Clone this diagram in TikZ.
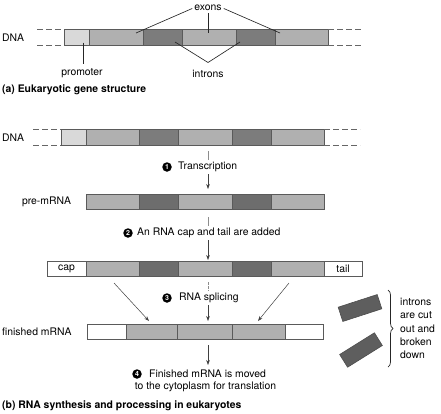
\documentclass[tikz,border=0pt]{standalone}
\usepackage{fontspec}
\setmainfont{TeX Gyre Heros}
\usetikzlibrary{arrows.meta,decorations.pathreplacing,calc}
\definecolor{promc}{HTML}{D9D9D9}
\definecolor{exonc}{HTML}{B0B0B0}
\definecolor{intrc}{HTML}{7C7C7C}
\definecolor{rintrc}{HTML}{6D6D6D}
\definecolor{cutc}{HTML}{5E5E5E}
\definecolor{segline}{HTML}{5A5A5A}
\newcommand\segbox[7]{\node[#2, minimum width={(#4-#3)*1pt}, minimum height={(#6-#5)*1pt}] (#1) at ({(#3+#4)/2},{(#5+#6)/2}) {#7};}
\begin{document}
\begin{tikzpicture}[x=1pt,y=-1pt,
  seg/.style={rectangle, draw=segline, line width=0.7pt, inner sep=0pt, outer sep=0pt, font=\fontsize{10.4}{12}\selectfont},
  prom/.style={seg, fill=promc},
  exon/.style={seg, fill=exonc},
  intr/.style={seg, fill=intrc},
  rintr/.style={seg, fill=rintrc},
  wht/.style={seg, fill=white},
  cutbox/.style={rectangle, draw=black!70, line width=0.6pt, fill=cutc, minimum width=41pt, minimum height=15pt, inner sep=0pt},
  lbl/.style={font=\fontsize{10.4}{12}\selectfont, inner sep=0pt},
  blbl/.style={font=\fontsize{10.4}{12}\selectfont\bfseries, inner sep=0pt},
  num/.style={circle, fill=black, text=white, font=\fontsize{7}{7}\selectfont\bfseries, inner sep=0pt, minimum size=9.5pt},
  ptr/.style={draw=black!85, line width=0.65pt},
  thinl/.style={draw=black!45, line width=0.5pt},
  dline/.style={draw=black!45, line width=0.5pt, dash pattern=on 2.5pt off 1.5pt},
  arr/.style={draw=black!75, line width=0.5pt, -{Stealth[length=5pt,width=3.6pt]}},
  dsh/.style={draw=black!60, line width=0.6pt, dash pattern=on 6pt off 3pt},
  brc/.style={draw=black!85, line width=0.7pt, decorate, decoration={brace, amplitude=5pt}}
]
\useasboundingbox (0,0) rectangle (441,413);

% ---------- (a) gene structure ----------
\segbox{aP}{prom}{64}{89}{29.5}{45.5}{}
\segbox{aE1}{exon}{89}{143}{29.5}{45.5}{}
\segbox{aI1}{intr}{143}{182}{29.5}{45.5}{}
\segbox{aE2}{exon}{182}{236}{29.5}{45.5}{}
\segbox{aI2}{intr}{236}{275}{29.5}{45.5}{}
\segbox{aE3}{exon}{275}{328}{29.5}{45.5}{}
\coordinate (aLt) at (37,29.5); \coordinate (aLb) at (37,45.5);
\coordinate (aRt) at (363,29.5); \coordinate (aRb) at (363,45.5);
\draw[dsh] (aLt) -- (aP.north west);
\draw[dsh] (aLb) -- (aP.south west);
\draw[dsh] (aE3.north east) -- (aRt);
\draw[dsh] (aE3.south east) -- (aRb);
\node[lbl, anchor=west] (dnaA) at (2,38) {DNA};

\node[lbl] (exons) at (208,8) {exons};
\draw[ptr] ($(exons.west)+(-2,0.5)$) -- ($(aE1.north east)+(-7,3.5)$);
\draw[ptr] ($(exons.south)+(0,2)$) -- ($(aE2.north)+(-1,3.5)$);
\draw[ptr] ($(exons.east)+(2,0.5)$) -- ($(aE3.north west)+(5,3.5)$);

\node[lbl] (introns) at (208,73.5) {introns};
\coordinate (iapex) at (208,62.5);
\draw[ptr] ($(aI1.south east)+(-7,-3.5)$) -- (iapex) -- ($(aI2.south west)+(4,-3.5)$);

\node[lbl] (promoter) at (82,73.5) {promoter};
\coordinate (papex) at (83,63.5);
\draw[ptr] ($(aP.south east)+(-6,-3)$) -- (papex);

\node[blbl, anchor=west] (capa) at (2,89.5) {(a) Eukaryotic gene structure};

% ---------- (b) DNA ----------
\segbox{bP}{prom}{61}{86}{129}{145}{}
\segbox{bE1}{exon}{86}{139}{129}{145}{}
\segbox{bI1}{intr}{139}{178}{129}{145}{}
\segbox{bE2}{exon}{178}{232}{129}{145}{}
\segbox{bI2}{intr}{232}{271}{129}{145}{}
\segbox{bE3}{exon}{271}{324}{129}{145}{}
\coordinate (bLt) at (33,129); \coordinate (bLb) at (33,145);
\coordinate (bRt) at (360,129); \coordinate (bRb) at (360,145);
\draw[dsh] (bLt) -- (bP.north west);
\draw[dsh] (bLb) -- (bP.south west);
\draw[dsh] (bE3.north east) -- (bRt);
\draw[dsh] (bE3.south east) -- (bRb);
\node[lbl, anchor=west] (dnaB) at (2,138) {DNA};

% step 1
\node[num] (n1) at (167,167) {1};
\node[lbl, anchor=west] (t1) at (178,167) {Transcription};
\coordinate (s1a) at (208,151); \coordinate (s1b) at (208,160);
\coordinate (s1c) at (208,174); \coordinate (s1d) at (208,189);
\draw[thinl] (s1a) -- (s1b);
\draw[arr] (s1c) -- (s1d);

% pre-mRNA
\segbox{cE1}{exon}{86}{139}{194}{209.5}{}
\segbox{cI1}{rintr}{139}{178}{194}{209.5}{}
\segbox{cE2}{exon}{178}{232}{194}{209.5}{}
\segbox{cI2}{rintr}{232}{271}{194}{209.5}{}
\segbox{cE3}{exon}{271}{324}{194}{209.5}{}
\node[lbl] (pre) at (46.5,202) {pre-mRNA};

% step 2
\node[num] (n2) at (128,233) {2};
\node[lbl, anchor=west] (t2) at (137,233) {An RNA cap and tail are added};
\coordinate (s2a) at (208,217); \coordinate (s2b) at (208,225.5);
\coordinate (s2c) at (208,240); \coordinate (s2d) at (208,260);
\draw[thinl] (s2a) -- (s2b);
\draw[arr] (s2c) -- (s2d);

% cap/tail RNA
\segbox{dC}{wht}{47}{86}{261}{276.5}{cap}
\segbox{dE1}{exon}{86}{139}{261}{276.5}{}
\segbox{dI1}{rintr}{139}{178}{261}{276.5}{}
\segbox{dE2}{exon}{178}{232}{261}{276.5}{}
\segbox{dI2}{rintr}{232}{271}{261}{276.5}{}
\segbox{dE3}{exon}{271}{324}{261}{276.5}{}
\segbox{dT}{wht}{324}{362}{261}{276.5}{tail}

% step 3
\node[num] (n3) at (167,298) {3};
\node[lbl, anchor=west] (t3) at (179,298) {RNA splicing};
\coordinate (s3a) at (208,282); \coordinate (s3b) at (208,291);
\coordinate (s3c) at (208,305); \coordinate (s3d) at (208,321);
\coordinate (s3l1) at (114,283); \coordinate (s3l2) at (149,321);
\coordinate (s3r1) at (289,283); \coordinate (s3r2) at (258,321);
\draw[dline] (s3a) -- (s3b);
\draw[arr] (s3c) -- (s3d);
\draw[arr] (s3l1) -- (s3l2);
\draw[arr] (s3r1) -- (s3r2);

% finished mRNA
\segbox{eW1}{wht}{87}{126}{324}{339.5}{}
\segbox{eE1}{exon}{126}{177}{324}{339.5}{}
\segbox{eE2}{exon}{177}{232}{324}{339.5}{}
\segbox{eE3}{exon}{232}{285}{324}{339.5}{}
\segbox{eW2}{wht}{285}{323}{324}{339.5}{}
\node[lbl, anchor=west] (fin) at (2,332) {finished mRNA};

% step 4
\coordinate (s4a) at (208,345); \coordinate (s4b) at (208,365);
\draw[arr] (s4a) -- (s4b);
\node[num] (n4) at (137,374) {4};
\node[lbl, anchor=west] (t4a) at (149,374) {Finished mRNA is moved};
\node[lbl] (t4b) at (205.5,387) {to the cytoplasm for translation};

\node[blbl, anchor=west] (capb) at (2,406) {(b) RNA synthesis and processing in eukaryotes};

% introns cut out
\node[cutbox, rotate=18] (cut1) at (360,308) {};
\node[cutbox, rotate=32] (cut2) at (361,350) {};
\coordinate (brT) at (388,290); \coordinate (brB) at (388,367);
\draw[brc] (brT) -- (brB);
\node[lbl, anchor=west, align=left, font=\fontsize{10.4}{13.2}\selectfont] (cuttxt) at (400,328.5) {introns\\are cut\\out and\\broken\\down};
\end{tikzpicture}
\end{document}
